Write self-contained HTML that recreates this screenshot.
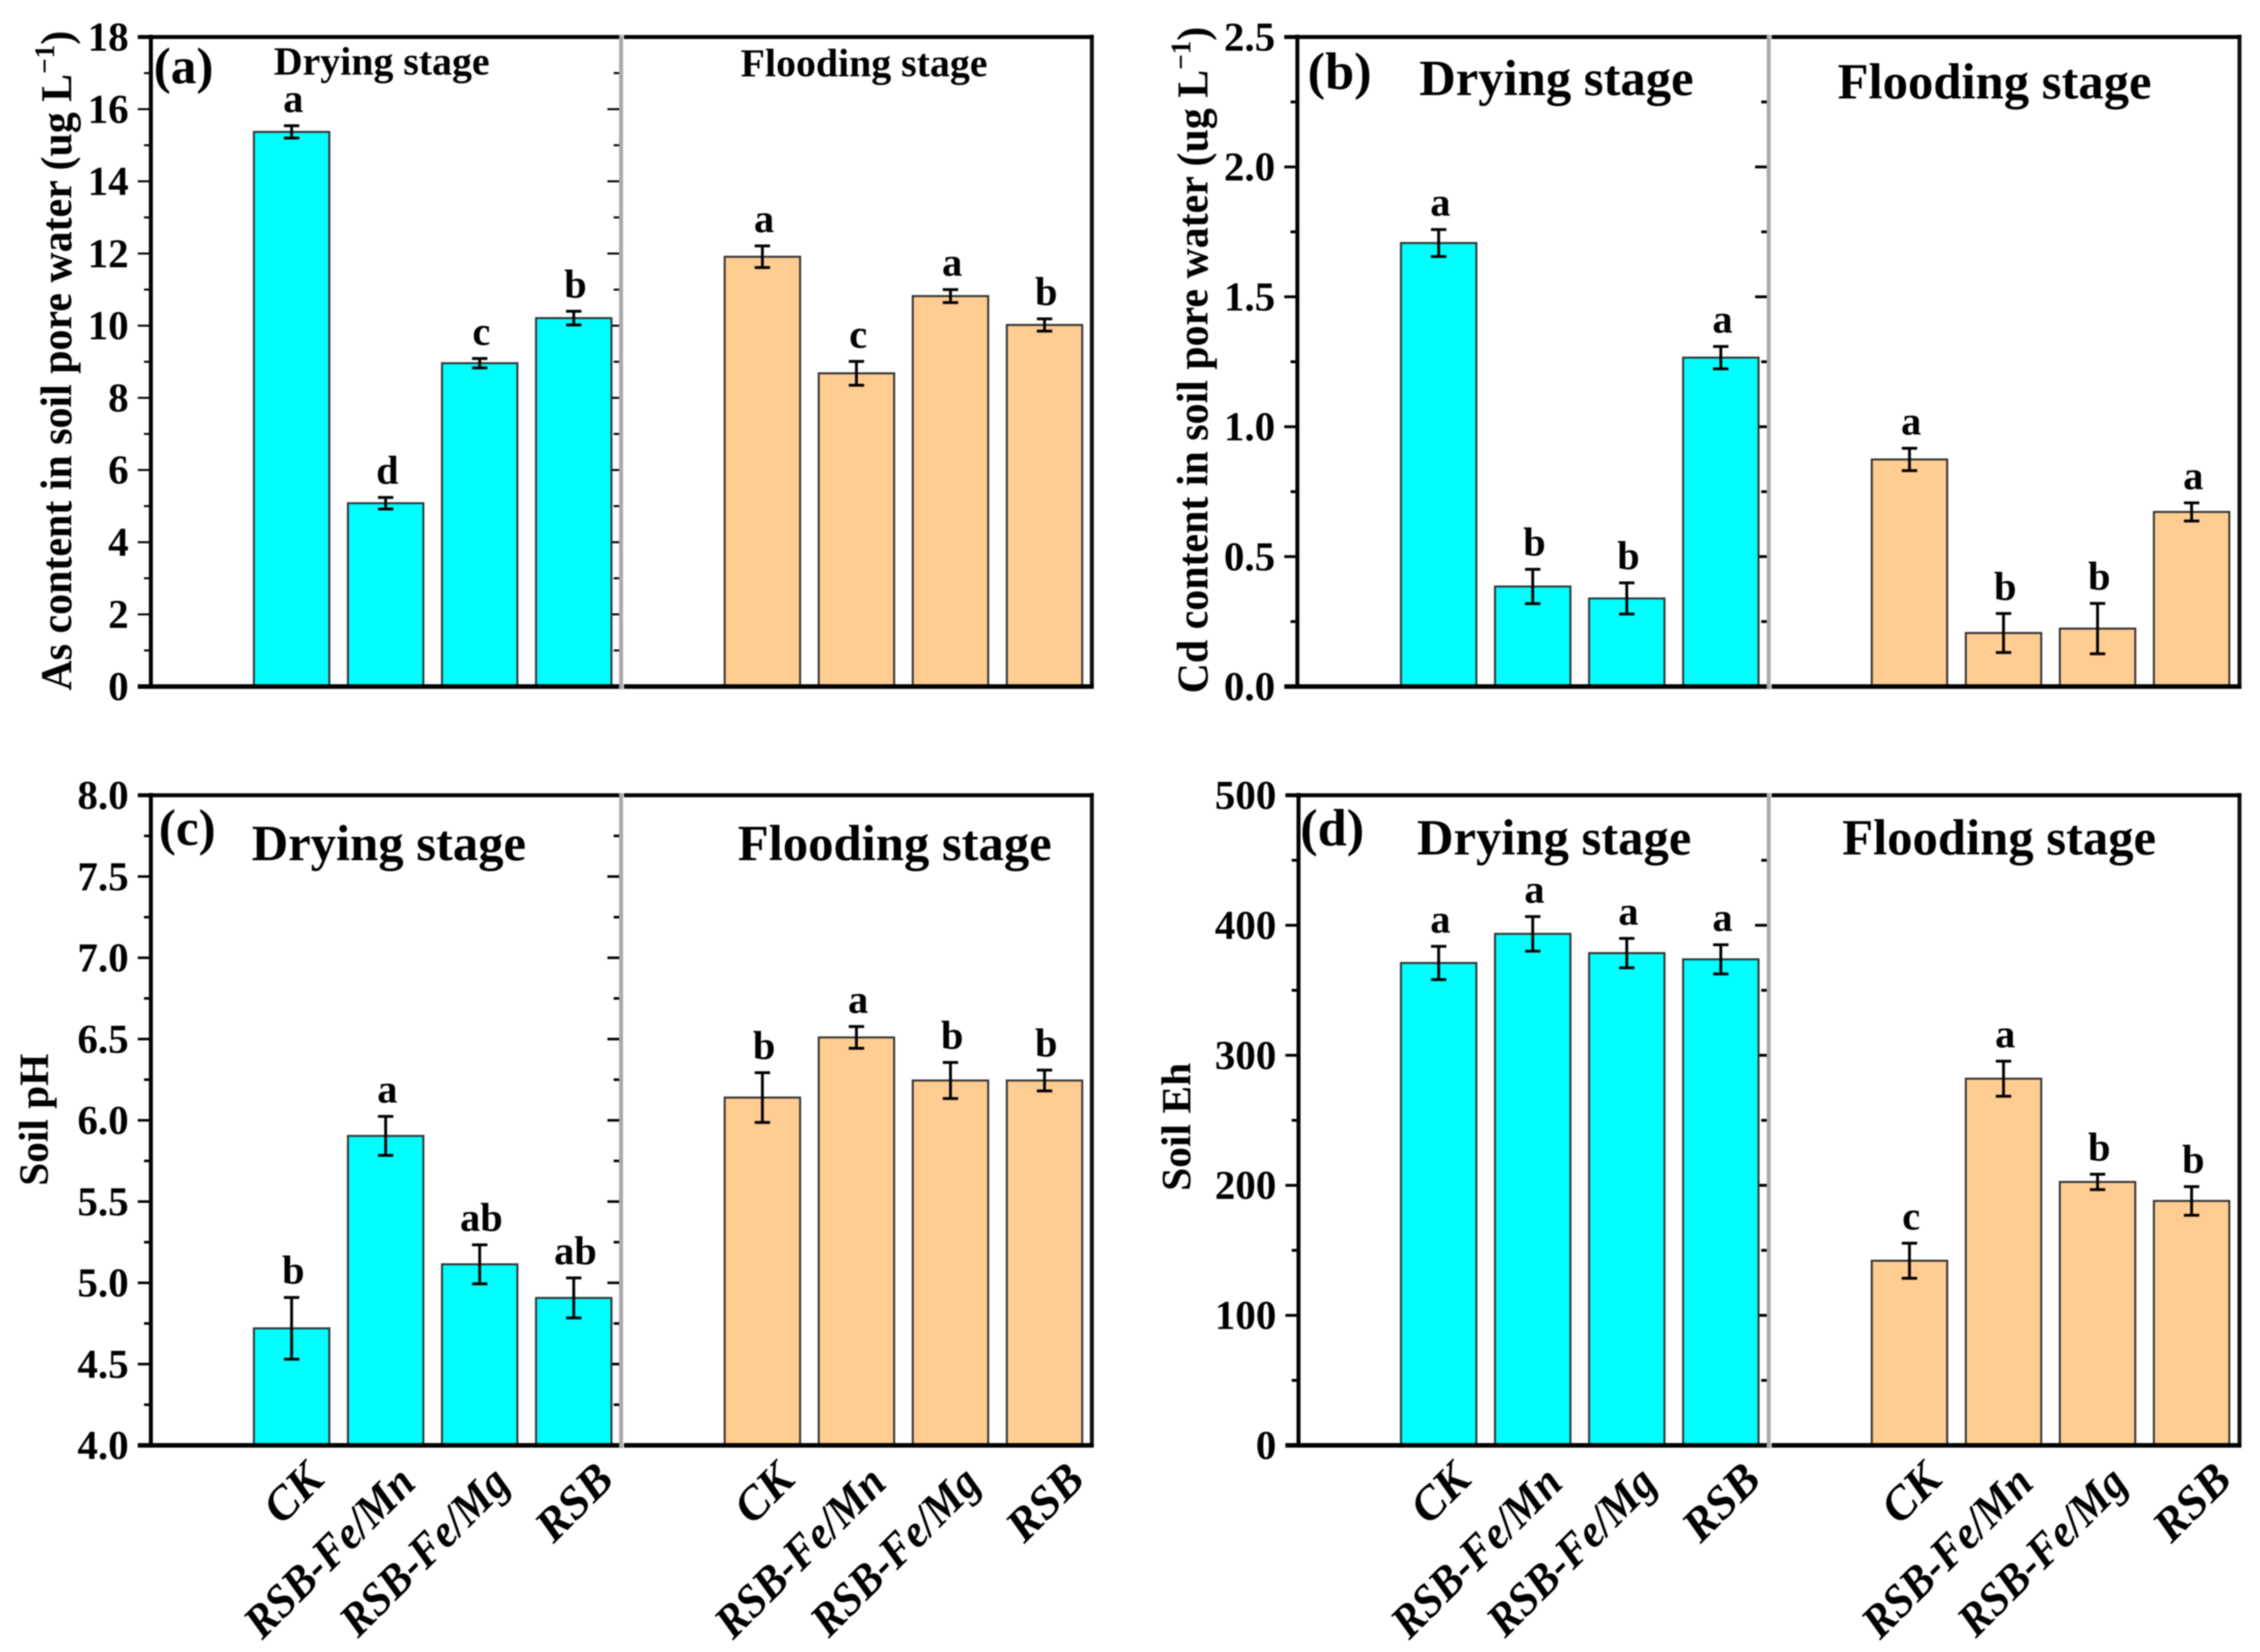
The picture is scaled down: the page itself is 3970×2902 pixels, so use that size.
<!DOCTYPE html>
<html lang="en">
<head>
<meta charset="utf-8">
<title>Soil pore water As and Cd, soil pH and Eh</title>
<style>
html,body{margin:0;padding:0;background:#fff;}
svg{display:block;filter:blur(1px);}
text{font-family:"Liberation Serif",serif;font-weight:bold;fill:#000;}
.xl{font-style:italic;font-size:82px;}
.stage-sm{font-size:70px;}
.stage-lg{font-size:89px;}
</style>
</head>
<body>
<svg id="chart" xmlns="http://www.w3.org/2000/svg" width="3970" height="2902" viewBox="0 0 3970 2902">
  <rect x="0" y="0" width="3970" height="2902" fill="#fff"/>
  <g id="marks"></g>

  <text transform="translate(125,1213) rotate(-90)" font-size="77" textLength="1159" lengthAdjust="spacingAndGlyphs">As content in soil pore water (ug L<tspan dy="-30" font-size="50">−1</tspan><tspan dy="30">)</tspan></text>
  <text transform="translate(2121,1218) rotate(-90)" font-size="77" textLength="1171" lengthAdjust="spacingAndGlyphs">Cd content in soil pore water (ug L<tspan dy="-30" font-size="50">−1</tspan><tspan dy="30">)</tspan></text>
  <text transform="translate(84,2083) rotate(-90)" font-size="73" textLength="232" lengthAdjust="spacingAndGlyphs">Soil pH</text>
  <text transform="translate(2091,2092) rotate(-90)" font-size="73" textLength="225" lengthAdjust="spacingAndGlyphs">Soil Eh</text>

  <text x="270" y="146" font-size="90">(a)</text>
  <text x="2297" y="156" font-size="92">(b)</text>
  <text x="279" y="1484" font-size="90">(c)</text>
  <text x="2284" y="1485" font-size="92">(d)</text>

  <text class="stage-sm" x="481" y="131">Drying stage</text>
  <text class="stage-sm" x="1301" y="134">Flooding stage</text>
  <text class="stage-lg" x="2493" y="167">Drying stage</text>
  <text class="stage-lg" x="3228" y="173">Flooding stage</text>
  <text class="stage-lg" x="442" y="1511">Drying stage</text>
  <text class="stage-lg" x="1296" y="1511">Flooding stage</text>
  <text class="stage-lg" x="2489" y="1501">Drying stage</text>
  <text class="stage-lg" x="3236" y="1501">Flooding stage</text>
</svg>
<script>
// ---- data ----
const categories = ['CK', 'RSB-Fe/Mn', 'RSB-Fe/Mg', 'RSB'];

const asTicks = ['0', '2', '4', '6', '8', '10', '12', '14', '16', '18'];
const asDryingValues = [15.37, 5.08, 8.96, 10.21];
const asDryingErrors = [0.17, 0.16, 0.13, 0.19];
const asDryingLetters = ['a', 'd', 'c', 'b'];
const asFloodingValues = [11.91, 8.68, 10.82, 10.02];
const asFloodingErrors = [0.3, 0.33, 0.18, 0.17];
const asFloodingLetters = ['a', 'c', 'a', 'b'];

const cdTicks = ['0.0', '0.5', '1.0', '1.5', '2.0', '2.5'];
const cdDryingValues = [1.707, 0.385, 0.339, 1.266];
const cdDryingErrors = [0.052, 0.066, 0.06, 0.043];
const cdDryingLetters = ['a', 'b', 'b', 'a'];
const cdFloodingValues = [0.874, 0.206, 0.223, 0.672];
const cdFloodingErrors = [0.043, 0.075, 0.097, 0.035];
const cdFloodingLetters = ['a', 'b', 'b', 'a'];

const phTicks = ['4.0', '4.5', '5.0', '5.5', '6.0', '6.5', '7.0', '7.5', '8.0'];
const phDryingValues = [4.72, 5.904, 5.114, 4.907];
const phDryingErrors = [0.19, 0.12, 0.12, 0.123];
const phDryingLetters = ['b', 'a', 'ab', 'ab'];
const phFloodingValues = [6.14, 6.51, 6.245, 6.245];
const phFloodingErrors = [0.153, 0.067, 0.111, 0.064];
const phFloodingLetters = ['b', 'a', 'b', 'b'];

const ehTicks = ['0', '100', '200', '300', '400', '500'];
const ehDryingValues = [371, 393.4, 378.6, 373.8];
const ehDryingErrors = [12.8, 13.3, 11.3, 11.2];
const ehDryingLetters = ['a', 'a', 'a', 'a'];
const ehFloodingValues = [142, 282, 202.6, 188];
const ehFloodingErrors = [13.5, 13.5, 5.9, 11];
const ehFloodingLetters = ['c', 'a', 'b', 'b'];

// ---- panel layout ----
const panels = [
  {id:'a', ticks:asTicks, left:265, divider:1091, right:1918, top:65, bottom:1206, dry:446, flood:1273, tickW:3.5, xLabels:false,
   dv:asDryingValues, de:asDryingErrors, dl:asDryingLetters, fv:asFloodingValues, fe:asFloodingErrors, fl:asFloodingLetters},
  {id:'b', ticks:cdTicks, left:2279, divider:3107, right:3934, top:65, bottom:1206, dry:2461, flood:3288, tickW:5, xLabels:false,
   dv:cdDryingValues, de:cdDryingErrors, dl:cdDryingLetters, fv:cdFloodingValues, fe:cdFloodingErrors, fl:cdFloodingLetters},
  {id:'c', ticks:phTicks, left:265, divider:1091, right:1918, top:1397, bottom:2539, dry:446, flood:1273, tickW:4.5, xLabels:true,
   dv:phDryingValues, de:phDryingErrors, dl:phDryingLetters, fv:phFloodingValues, fe:phFloodingErrors, fl:phFloodingLetters},
  {id:'d', ticks:ehTicks, left:2281, divider:3107, right:3934, top:1397, bottom:2539, dry:2461, flood:3288, tickW:5, xLabels:true,
   dv:ehDryingValues, de:ehDryingErrors, dl:ehDryingLetters, fv:ehFloodingValues, fe:ehFloodingErrors, fl:ehFloodingLetters}
];

const BAR_STEP = 165.2;
const BAR_W = 132.5;
const NS = 'http://www.w3.org/2000/svg';
const root = document.getElementById('marks');

function mk(tag, parent, props) {
  const el = document.createElementNS(NS, tag);
  for (const k in props) el.setAttribute(k, props[k]);
  parent.appendChild(el);
  return el;
}

function drawPanel(p) {
  const g = mk('g', root, {});
  
  

  const tickVals = p.ticks.map(Number);
  const yMin = tickVals[0];
  const yMax = tickVals[tickVals.length - 1];
  const y = v => p.bottom - (v - yMin) / (yMax - yMin) * (p.bottom - p.top);

  // major and minor ticks, left axis and divider side
  tickVals.forEach((v, i) => {
    const major = mk('line', g, {x1:p.left - 23, x2:p.left, y1:y(v), y2:y(v), stroke:'#000', 'stroke-width':p.tickW});
    
    
    const inner = mk('line', g, {x1:p.divider - 24, x2:p.divider, y1:y(v), y2:y(v), stroke:'#000', 'stroke-width':p.tickW});
    
    
    const label = mk('text', g, {x:p.left - 39, y:y(v) + 24, 'font-size':72, 'text-anchor':'end'});
    label.textContent = p.ticks[i];
    
    
    if (i < tickVals.length - 1) {
      const mv = (v + tickVals[i + 1]) / 2;
      const minor = mk('line', g, {x1:p.left - 12, x2:p.left, y1:y(mv), y2:y(mv), stroke:'#000', 'stroke-width':p.tickW});
      
      
      const innerMinor = mk('line', g, {x1:p.divider - 13, x2:p.divider, y1:y(mv), y2:y(mv), stroke:'#000', 'stroke-width':p.tickW});
      
      
    }
  });

  // bars, error bars, letters, category labels
  function drawGroup(start, fill, stage, values, errors, letters) {
    values.forEach((v, i) => {
      const x = start + i * BAR_STEP;
      const cx = x + BAR_W / 2;
      const top = y(v);
      const bar = mk('rect', g, {x:x, y:top, width:BAR_W, height:p.bottom - top, fill:fill, stroke:'#333', 'stroke-width':3.5});
      
      

      const hi = y(v + errors[i]);
      const lo = y(v - errors[i]);
      const err = mk('path', g, {d:'M' + (cx - 13.5) + ' ' + hi + 'H' + (cx + 13.5) + 'M' + cx + ' ' + hi + 'V' + lo + 'M' + (cx - 13.5) + ' ' + lo + 'H' + (cx + 13.5), stroke:'#000', 'stroke-width':5, fill:'none'});
      
      

      const sig = mk('text', g, {x:cx + 3, y:hi - 24, 'font-size':71, 'text-anchor':'middle'});
      sig.textContent = letters[i];
      
      

      if (p.xLabels) {
        const isLong = categories[i].length > 5;
        const isFirst = i === 0;
        const lx = cx + (isLong ? 56 : (isFirst ? 60 : 74));
        const ly = p.bottom + (isLong ? 70 : 64);
        const xl = mk('text', g, {x:lx, y:ly, class:'xl', 'text-anchor':'end', transform:'rotate(-45 ' + lx + ' ' + ly + ')'});
        xl.textContent = categories[i];
        
        
        if (isLong) {
          const natural = xl.getComputedTextLength();
          xl.setAttribute('textLength', natural * 0.93);
          xl.setAttribute('lengthAdjust', 'spacingAndGlyphs');
        }
      }
    });
  }
  drawGroup(p.dry, '#00ffff', 'drying', p.dv, p.de, p.dl);
  drawGroup(p.flood, '#ffcc91', 'flooding', p.fv, p.fe, p.fl);

  // frame
  const left = mk('line', g, {x1:p.left, x2:p.left, y1:p.top - 4, y2:p.bottom + 4, stroke:'#000', 'stroke-width':7});
  
  
  const right = mk('line', g, {x1:p.right, x2:p.right, y1:p.top - 4, y2:p.bottom + 4, stroke:'#111', 'stroke-width':7});
  
  
  [['top', p.top], ['bottom', p.bottom]].forEach(([n, yy]) => {
    const w = n === 'top' ? 7 : 8;
    const a1 = mk('line', g, {x1:p.left - 23, x2:p.divider - 3, y1:yy, y2:yy, stroke:'#000', 'stroke-width':w});
    
    
    const a2 = mk('line', g, {x1:p.divider + 5, x2:p.right + 3.5, y1:yy, y2:yy, stroke:'#000', 'stroke-width':w});
    
    
  });
  const div = mk('line', g, {x1:p.divider, x2:p.divider, y1:p.top - 4, y2:p.bottom + 5, stroke:'#aaa', 'stroke-width':7});
  
  
}

panels.forEach(drawPanel);
</script>
</body>
</html>
